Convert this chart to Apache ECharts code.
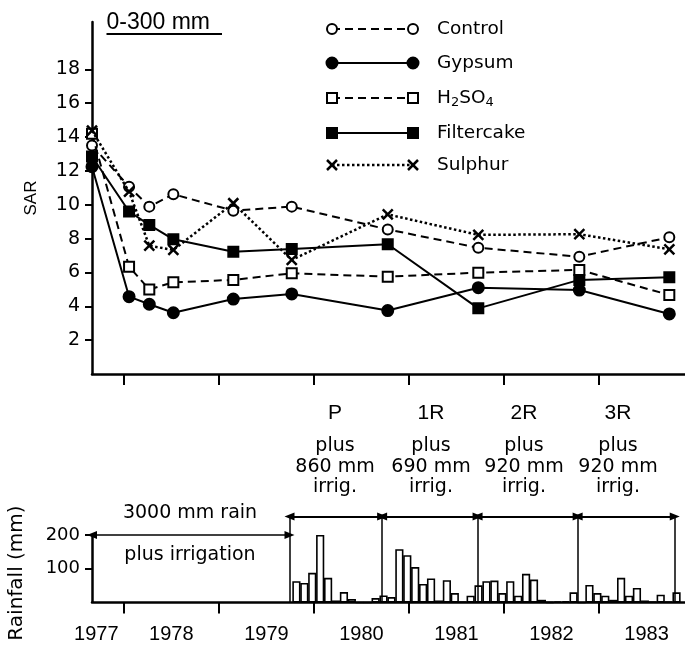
<!DOCTYPE html>
<html><head><meta charset="utf-8">
<script src="https://cdn.jsdelivr.net/npm/echarts@6/dist/echarts.min.js"></script>
<style>html,body{margin:0;padding:0;background:#fff}#c{width:685px;height:647px}</style>
</head><body><div id="c"></div>
<script>
// ---------- data ----------
const seriesNames = ['Control', 'Gypsum', 'H2SO4', 'Filtercake', 'Sulphur'];
const sampleDates = [1977.665, 1978.055, 1978.268, 1978.521, 1979.152, 1979.767, 1980.777, 1981.730, 1982.793, 1983.740];
const control    = [13.5, 11.07, 9.89, 10.62, 9.65, 9.89, 8.54, 7.46, 6.93, 8.08];
const gypsum     = [12.25, 4.57, 4.12, 3.62, 4.43, 4.73, 3.75, 5.10, 4.96, 3.55];
const h2so4      = [14.2, 6.34, 5.00, 5.42, 5.56, 5.95, 5.75, 5.99, 6.15, 4.67];
const filtercake = [12.85, 9.60, 8.81, 7.96, 7.23, 7.39, 7.67, 3.88, 5.56, 5.72];
const sulphur    = [14.38, 10.77, 7.58, 7.33, 10.09, 6.74, 9.43, 8.22, 8.26, 7.37];

const sarTicks = [2, 4, 6, 8, 10, 12, 14, 16, 18];
const yearTicks = [1978, 1979, 1980, 1981, 1982, 1983];
const yearLabelValues = [1977.71, 1978.5, 1979.5, 1980.5, 1981.5, 1982.5, 1983.5];
const yearLabels = ['1977', '1978', '1979', '1980', '1981', '1982', '1983'];
const rainTicks = [100, 200];

// monthly rainfall (mm), first month = Oct 1979
const rainStart = 1979.816;
const rainfall = [63, 58, 88, 200, 73, 6, 31, 10, 0, 0, 13, 21,
                  16, 158, 140, 105, 55, 71, 6, 66, 28, 2, 20, 51,
                  63, 65, 28, 63, 20, 85, 68, 8, 1, 3, 4, 30,
                  0, 52, 28, 20, 8, 73, 20, 43, 6, 2, 23, 3, 30];

// period boundaries (decimal years) and annotations
const periodBounds = [1979.743, 1980.718, 1981.722, 1982.775, 1983.797];
const periodNames = ['P', '1R', '2R', '3R'];
const periodIrrig = ['860 mm', '690 mm', '920 mm', '920 mm'];
const preLevel = 200;     // mm level of "3000 mm rain" arrow
const periodLevel = 255;  // mm level of period arrows

// ---------- layout / style ----------
const X_MIN = 1977.665, X_MAX = 1983.905;
const BLACK = '#000';
const sarData = [control, gypsum, h2so4, filtercake, sulphur];
const XPATH = 'path://M0,0L10,10M10,0L0,10';
const styleOf = {
  Control:    {dash: [8, 5], symbol: 'circle', fill: '#fff', size: 10, width: 2},
  Gypsum:     {dash: 'solid', symbol: 'circle', fill: BLACK, size: 11, width: 2},
  H2SO4:      {dash: [8, 5], symbol: 'rect', fill: '#fff', size: 10, width: 2},
  Filtercake: {dash: 'solid', symbol: 'rect', fill: BLACK, size: 10, width: 2},
  Sulphur:    {dash: [2.5, 2.5], symbol: XPATH, fill: BLACK, size: 10, width: 2.5}
};

const chart = echarts.init(document.getElementById('c'), null, {renderer: 'canvas'});

const lineSeries = seriesNames.map((name, k) => {
  const s = styleOf[name];
  return {
    name, type: 'line', xAxisIndex: 0, yAxisIndex: 0,
    data: sampleDates.map((d, i) => [d, sarData[k][i]]),
    symbol: s.symbol, symbolSize: s.size, showAllSymbol: true,
    lineStyle: {color: BLACK, width: s.width, type: s.dash},
    itemStyle: {color: s.fill, borderColor: BLACK, borderWidth: name === 'Sulphur' ? 2.5 : 2},
    emphasis: {disabled: true}, z: 3 + k
  };
});

// markLines for bottom annotations
const mlData = [];
const seg = (x1, y1, x2, y2, arrows, w) => mlData.push([
  {coord: [x1, y1], symbol: arrows ? 'triangle' : 'none', symbolSize: [8, 10], lineStyle: {color: BLACK, width: w, type: 'solid'}},
  {coord: [x2, y2], symbol: arrows ? 'triangle' : 'none', symbolSize: [8, 10]}
]);
seg(X_MIN, 0, X_MIN, preLevel, false, 2.5);
seg(X_MIN, preLevel, periodBounds[0], preLevel, true, 1.5);
periodBounds.forEach(b => seg(b, 0, b, periodLevel, false, 1.5));
for (let i = 0; i < periodBounds.length - 1; i++) seg(periodBounds[i], periodLevel, periodBounds[i + 1], periodLevel, true, 2);

const barSeries = {
  name: 'Rainfall', type: 'bar', xAxisIndex: 1, yAxisIndex: 1,
  data: rainfall.map((v, i) => [rainStart + i / 12, v]),
  barWidth: 8.2,
  itemStyle: {color: '#fff', borderColor: BLACK, borderWidth: 1.6},
  emphasis: {disabled: true},
  markLine: {silent: true, animation: false, label: {show: false}, emphasis: {disabled: true}, data: mlData}
};

// legend as graphics
const legendRows = [29, 63, 98, 133, 165];
const LX1 = 332, LX2 = 413, LTX = 437;
const legendGraphics = [];
seriesNames.forEach((name, k) => {
  const s = styleOf[name];
  const y = legendRows[k];
  legendGraphics.push({type: 'line', shape: {x1: LX1, y1: y, x2: LX2, y2: y},
    style: {stroke: BLACK, lineWidth: s.width, lineDash: s.dash === 'solid' ? null : s.dash}, z: 10});
  [LX1, LX2].forEach(x => {
    if (s.symbol === 'circle') {
      legendGraphics.push({type: 'circle', shape: {cx: x, cy: y, r: s.size / 2}, style: {fill: s.fill, stroke: BLACK, lineWidth: 2}, z: 11});
    } else if (s.symbol === 'rect') {
      legendGraphics.push({type: 'rect', shape: {x: x - s.size / 2, y: y - s.size / 2, width: s.size, height: s.size}, style: {fill: s.fill, stroke: BLACK, lineWidth: 2}, z: 11});
    } else {
      legendGraphics.push({type: 'polyline', shape: {points: [[x - 5, y - 5], [x + 5, y + 5]]}, style: {stroke: BLACK, lineWidth: 2.5}, z: 11});
      legendGraphics.push({type: 'polyline', shape: {points: [[x + 5, y - 5], [x - 5, y + 5]]}, style: {stroke: BLACK, lineWidth: 2.5}, z: 11});
    }
  });
  const txt = name === 'H2SO4' ? 'H{s|2}SO{s|4}' : name;
  legendGraphics.push({type: 'text', x: LTX, y: y, z: 11,
    style: {text: txt, fill: BLACK, fontSize: 18.5, fontFamily: 'DejaVu Sans', lineHeight: 22,
      verticalAlign: 'middle', align: 'left',
      rich: {s: {fontSize: 13, fontFamily: 'DejaVu Sans', lineHeight: 13, verticalAlign: 'bottom', fill: BLACK}}}});
});

const periodCenters = [335, 431, 524, 618];
const annot = [];
periodNames.forEach((p, i) => {
  annot.push({type: 'text', x: periodCenters[i], y: 413,
    style: {text: p, fill: BLACK, fontSize: 21, fontFamily: 'Liberation Sans', align: 'center', verticalAlign: 'middle'}});
  annot.push({type: 'text', x: periodCenters[i], y: 467,
    style: {text: 'plus\n' + periodIrrig[i] + '\nirrig.', fill: BLACK, fontSize: 19, lineHeight: 20.5,
      fontFamily: 'DejaVu Sans', align: 'center', verticalAlign: 'middle'}});
});
annot.push({type: 'text', x: 190, y: 513, style: {text: '3000 mm rain', fill: BLACK, fontSize: 19, fontFamily: 'DejaVu Sans', align: 'center', verticalAlign: 'middle'}});
annot.push({type: 'text', x: 190, y: 555, style: {text: 'plus irrigation', fill: BLACK, fontSize: 19, fontFamily: 'DejaVu Sans', align: 'center', verticalAlign: 'middle'}});
annot.push({type: 'text', x: 17, y: 573, rotation: Math.PI / 2,
  style: {text: 'Rainfall (mm)', fill: BLACK, fontSize: 20, fontFamily: 'DejaVu Sans', align: 'center', verticalAlign: 'middle'}});
annot.push({type: 'text', x: 106.5, y: 23, style: {text: '0-300 mm', fill: BLACK, fontSize: 23, fontFamily: 'Liberation Sans', align: 'left', verticalAlign: 'middle'}});
annot.push({type: 'line', shape: {x1: 106.5, y1: 34, x2: 222, y2: 34}, style: {stroke: BLACK, lineWidth: 2}});

const axisLineStyle = {color: BLACK, width: 2.5};
chart.setOption({
  animation: false,
  backgroundColor: '#fff',
  grid: [
    {left: 92, right: 0, top: 22, bottom: 273, containLabel: false},
    {left: 92, right: 0, top: 512, bottom: 44.5, containLabel: false}
  ],
  xAxis: [
    {type: 'value', gridIndex: 0, min: X_MIN, max: X_MAX,
      axisLine: {show: true, onZero: false, lineStyle: axisLineStyle},
      axisTick: {show: true, customValues: yearTicks, length: 11, inside: false, lineStyle: {color: BLACK, width: 2}},
      axisLabel: {show: false}, splitLine: {show: false}},
    {type: 'value', gridIndex: 1, min: X_MIN, max: X_MAX,
      axisLine: {show: true, onZero: false, lineStyle: axisLineStyle},
      axisTick: {show: true, customValues: yearTicks, length: 11, inside: false, lineStyle: {color: BLACK, width: 2}},
      axisLabel: {show: true, customValues: yearLabelValues, margin: 22, color: BLACK, fontSize: 20, fontFamily: 'Liberation Sans',
        formatter: v => yearLabels[yearLabelValues.findIndex(u => Math.abs(u - v) < 1e-6)] || ''},
      splitLine: {show: false}}
  ],
  yAxis: [
    {type: 'value', gridIndex: 0, min: 0, max: 20.8,
      name: 'SAR', nameLocation: 'middle', nameRotate: 90, nameGap: 52,
      nameTextStyle: {color: BLACK, fontSize: 17, fontFamily: 'Liberation Sans'},
      axisLine: {show: true, onZero: false, lineStyle: axisLineStyle},
      axisTick: {show: true, customValues: sarTicks, length: 7, lineStyle: {color: BLACK, width: 2}},
      axisLabel: {show: true, customValues: sarTicks, margin: 12, color: BLACK, fontSize: 19, fontFamily: 'DejaVu Sans'},
      splitLine: {show: false}},
    {type: 'value', gridIndex: 1, min: 0, max: 268,
      axisLine: {show: false},
      axisTick: {show: true, customValues: rainTicks, length: 7, lineStyle: {color: BLACK, width: 2}},
      axisLabel: {show: true, customValues: rainTicks, margin: 12, color: BLACK, fontSize: 18, fontFamily: 'DejaVu Sans'},
      splitLine: {show: false}}
  ],
  series: [barSeries, ...lineSeries],
  graphic: [...legendGraphics, ...annot]
});
</script></body></html>
